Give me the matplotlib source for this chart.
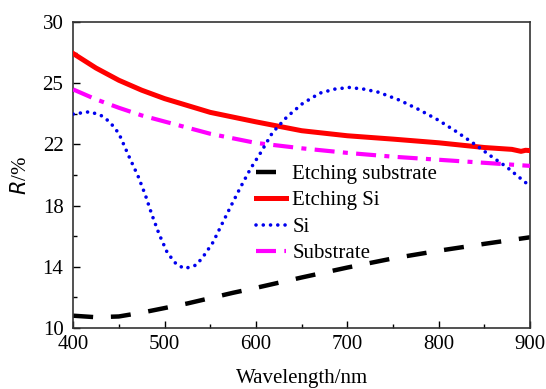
import matplotlib
matplotlib.use("Agg")
import matplotlib.pyplot as plt

# data (y in axis units, ticks every 4)
wl_etch_sub = [400, 425, 450, 475, 500, 525, 550, 575, 600, 650, 700, 750, 800, 850, 900]
etch_sub = [10.8, 10.7, 10.75, 11.0, 11.3, 11.6, 11.95, 12.3, 12.62, 13.3, 13.95, 14.55, 15.05, 15.5, 15.93]

wl_etch_si = [400, 425, 450, 475, 500, 550, 600, 650, 700, 750, 800, 850, 880, 890, 895, 900]
etch_si = [27.95, 27.0, 26.2, 25.55, 25.0, 24.1, 23.48, 22.9, 22.57, 22.35, 22.11, 21.8, 21.68, 21.55, 21.62, 21.6]

wl_si = [400, 418, 430, 440, 450, 462, 471, 479, 486, 494, 503, 513, 522, 535, 544, 553, 563,
         573, 583, 594, 605, 618, 634, 651, 670, 686, 702, 718, 734, 757, 778, 799, 819, 839,
         858, 874, 896, 900]
si = [23.99, 24.14, 23.92, 23.48, 22.72, 21.09, 19.93, 18.69, 17.43, 16.14, 14.92, 14.16, 13.88,
      14.12, 14.81, 15.6, 16.82, 18.02, 19.19, 20.41, 21.45, 22.77, 23.81, 24.68, 25.36, 25.62,
      25.73, 25.62, 25.42, 24.9, 24.29, 23.61, 22.85, 22.03, 21.2, 20.54, 19.46, 19.3]

wl_sub = [400, 425, 450, 475, 500, 550, 600, 650, 700, 750, 800, 850, 900]
sub = [25.6, 24.95, 24.4, 23.9, 23.5, 22.7, 22.1, 21.75, 21.45, 21.2, 21.0, 20.8, 20.6]

y_ticks = [10, 14, 18, 22, 26, 30]
y_labels = ["10", "14", "18", "22", "25", "30"]
x_ticks = [400, 500, 600, 700, 800, 900]

plt.rcParams['font.family'] = ['Liberation Serif', 'DejaVu Serif']
plt.rcParams['font.size'] = 15

fig = plt.figure(figsize=(5.46, 3.89), dpi=100)
ax = fig.add_axes([0.134, 0.157, 0.837, 0.786])

ax.plot(wl_etch_sub, etch_sub, color='black', lw=3.2, linestyle=(0, (4.5, 4)),
        label='Etching substrate', zorder=2)
ax.plot(wl_etch_si, etch_si, color='#ff0000', lw=3.6, label='Etching Si', zorder=3)
ax.plot(wl_si, si, color='#0000ee', lw=2.6, linestyle=(0, (0.01, 2.0)),
        dash_capstyle='round', label='Si', zorder=5)
ax.plot(wl_sub, sub, color='#ff00ff', lw=3.0, linestyle=(0, (4.8, 2.0, 1.2, 2.0)),
        label='Substrate', zorder=4)

ax.set_xlim(400, 900)
ax.set_ylim(10, 30)
ax.set_xticks(x_ticks)
ax.set_xticks([450, 550, 650, 750, 850], minor=True)
ax.set_yticks(y_ticks)
ax.set_yticklabels(y_labels)
ax.set_yticks([12, 16, 20, 24, 28], minor=True)
ax.tick_params(which='both', direction='in', top=False, right=False)
ax.tick_params(axis='x', which='major', pad=5)
ax.tick_params(axis='y', which='major', pad=7)
ax.tick_params(which='major', length=5, width=1)
ax.tick_params(which='minor', length=3, width=1)

for s in ax.spines.values():
    s.set_linewidth(1.2)
    s.set_color('#333333')

ax.set_xlabel('Wavelength/nm', labelpad=11)
ax.set_ylabel(r'$R$/%', labelpad=8)

ax.legend(loc='upper left', bbox_to_anchor=(0.4, 0.535), frameon=False,
          handlelength=1.45, handletextpad=0.3, labelspacing=0.33, borderpad=0,
          borderaxespad=0, fontsize=15)

fig.savefig('out.png', dpi=100)
